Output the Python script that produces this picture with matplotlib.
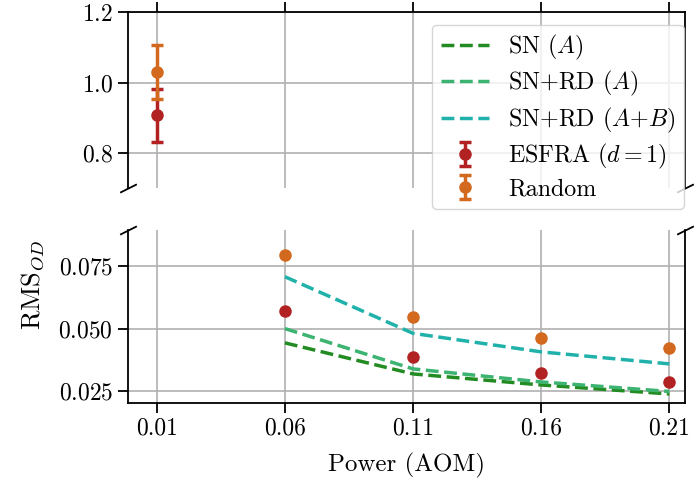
"""Broken-axis RMS_OD vs AOM power figure."""

import matplotlib

matplotlib.use("Agg")
import matplotlib.pyplot as plt

plt.rcParams["font.family"] = "serif"
plt.rcParams["font.serif"] = ["cmr10"]
plt.rcParams["mathtext.fontset"] = "cm"
plt.rcParams["axes.formatter.use_mathtext"] = True
plt.rcParams["font.size"] = 17

# ── Data ──────────────────────────────────────────────────────────────────────

power = [0.06, 0.11, 0.16, 0.21]
sn_a = [0.0443, 0.0319, 0.0275, 0.0239]
snrd_a = [0.0500, 0.0339, 0.0287, 0.0249]
snrd_ab = [0.0707, 0.0481, 0.0407, 0.0359]
esfra = [0.0570, 0.0388, 0.0324, 0.0286]
random_ = [0.0794, 0.0546, 0.0464, 0.0423]

power_low = [0.01]
esfra_low = [0.908]
esfra_low_err = [0.075]
random_low = [1.031]
random_low_err = [0.076]

xticks = [0.01, 0.06, 0.11, 0.16, 0.21]

C_SN = "#228B22"
C_SNRD = "#3CB371"
C_SNRD_AB = "#20B2AA"
C_ESFRA = "#B22222"
C_RAND = "#D2691E"

# ── Figure ────────────────────────────────────────────────────────────────────

fig = plt.figure(figsize=(6.98, 4.87), dpi=100)
ax1 = fig.add_axes([0.183, 0.613, 0.798, 0.362])
ax2 = fig.add_axes([0.183, 0.172, 0.798, 0.356], sharex=ax1)

lw = 2.5
l1, = ax2.plot(power, sn_a, "--", color=C_SN, lw=lw, label="SN ($A$)")
l2, = ax2.plot(power, snrd_a, "--", color=C_SNRD, lw=lw, label="SN+RD ($A$)")
l3, = ax2.plot(power, snrd_ab, "--", color=C_SNRD_AB, lw=lw, label="SN+RD ($A$+$B$)")
ax2.plot(power, esfra, "o", color=C_ESFRA, ms=8, zorder=3)
ax2.plot(power, random_, "o", color=C_RAND, ms=8, zorder=3)

e1 = ax1.errorbar(power_low, esfra_low, yerr=esfra_low_err, fmt="o", color=C_ESFRA,
                  ms=8, elinewidth=2.5, capsize=4, capthick=2.5, zorder=3,
                  label="ESFRA ($d=1$)")
e2 = ax1.errorbar(power_low, random_low, yerr=random_low_err, fmt="o", color=C_RAND,
                  ms=8, elinewidth=2.5, capsize=4, capthick=2.5, zorder=3,
                  label="Random")

ax1.set_ylim(0.7, 1.2)
ax1.set_yticks([0.8, 1.0, 1.2])
ax2.set_ylim(0.0202, 0.0894)
ax2.set_yticks([0.025, 0.050, 0.075])
ax2.set_xlim(-0.0013, 0.216)
ax2.set_xticks(xticks)
ax2.set_xticklabels([f"{t:.2f}" for t in xticks])

for ax in (ax1, ax2):
    ax.grid(True, color="#b0b0b0", lw=1.2)
    ax.set_axisbelow(True)
    ax.tick_params(length=7, width=1.3, labelsize=17)
    for sp in ax.spines.values():
        sp.set_linewidth(1.3)

ax1.spines["bottom"].set_visible(False)
ax2.spines["top"].set_visible(False)
ax1.tick_params(axis="x", which="both", bottom=False, labelbottom=False, top=True)
ax2.tick_params(axis="x", top=False)

# break marks
d = 0.5
kw = dict(marker=[(-1, -d), (1, d)], markersize=12, linestyle="none",
          color="k", mec="k", mew=1.3, clip_on=False)
ax1.plot([0, 1], [0, 0], transform=ax1.transAxes, **kw)
ax2.plot([0, 1], [1, 1], transform=ax2.transAxes, **kw)

ax1.legend(handles=[l1, l2, l3, e1, e2], loc="upper right",
           bbox_to_anchor=(0.998, 0.93), borderaxespad=0, fontsize=17.3,
           borderpad=0.35, labelspacing=0.3)

ax2.set_xlabel("Power (AOM)", fontsize=18, labelpad=9)
fig.text(0.047, 0.415, "RMS$_{OD}$", rotation=90, va="center", ha="center",
         fontsize=19)

fig.savefig("out.png", dpi=100)
